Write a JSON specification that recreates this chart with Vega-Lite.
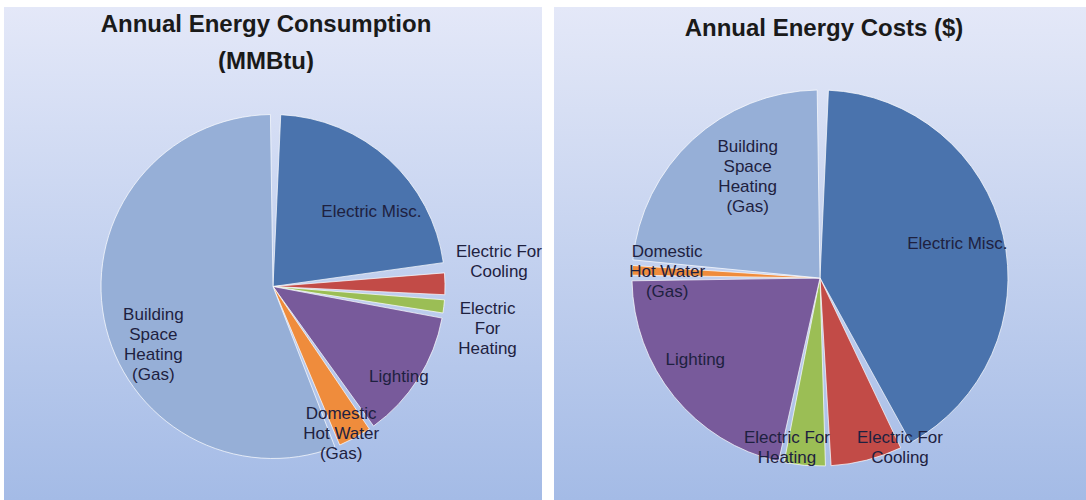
{
  "$schema": "https://vega.github.io/schema/vega-lite/v6.json",
  "background": "white",
  "padding": {"left": 4, "top": 7, "right": 0, "bottom": 0},
  "spacing": 12,
  "config": {"view": {"stroke": null}, "font": "Liberation Sans"},
  "hconcat": [
    {
      "spacing": 0,
      "bounds": "flush",
      "vconcat": [
        {
          "width": 538,
          "height": 66,
          "view": {"stroke": null, "fill": {"gradient": "linear", "x1": 0, "y1": 0, "x2": 0, "y2": 1, "stops": [{"offset": 0, "color": "#e4e8f8"}, {"offset": 1, "color": "#dbe2f6"}]}},
          "data": {"values": [{"title": "Annual Energy Consumption\n(MMBtu)"}]},
          "mark": {"type": "text", "font": "Liberation Sans", "fontSize": 24, "fontWeight": "bold", "fill": "#1a1a1a", "lineBreak": "\n", "lineHeight": 37, "align": "center", "baseline": "middle", "dx": -7, "dy": -15},
          "encoding": {"text": {"field": "title", "type": "nominal"}}
        },
        {
          "width": 538,
          "height": 427,
          "view": {"stroke": null, "fill": {"gradient": "linear", "x1": 0, "y1": 0, "x2": 0, "y2": 1, "stops": [{"offset": 0, "color": "#dbe2f6"}, {"offset": 1, "color": "#a4bbe6"}]}},
          "data": {"values": [
            {"rank": 1, "category": "Electric Misc.", "label": "Electric Misc.", "value": 23.5},
            {"rank": 2, "category": "Electric For Cooling", "label": "Electric For\nCooling", "value": 2.5},
            {"rank": 3, "category": "Electric For Heating", "label": "Electric\nFor\nHeating", "value": 1.7},
            {"rank": 4, "category": "Lighting", "label": "Lighting", "value": 12.6},
            {"rank": 5, "category": "Domestic Hot Water (Gas)", "label": "Domestic\nHot Water\n(Gas)", "value": 3.6},
            {"rank": 6, "category": "Building Space Heating (Gas)", "label": "Building\nSpace\nHeating\n(Gas)", "value": 56.1}
          ]},
          "encoding": {
            "theta": {"field": "value", "type": "quantitative", "stack": true},
            "order": {"field": "rank", "type": "quantitative", "sort": "ascending"},
            "detail": {"field": "category", "type": "nominal"}
          },
          "layer": [
            {
              "mark": {"type": "arc", "radius": 172, "padAngle": {"expr": "datum.rank === 1 ? 0.09 : 0.03"}, "stroke": "#ffffff", "strokeWidth": 1, "strokeOpacity": 0.7},
              "encoding": {
                "color": {"field": "category", "type": "nominal", "legend": null,
                  "scale": {"domain": ["Electric Misc.", "Electric For Cooling", "Electric For Heating", "Lighting", "Domestic Hot Water (Gas)", "Building Space Heating (Gas)"],
                            "range": ["#4a73ad", "#c24b47", "#9bbe55", "#785a9b", "#ef8c3c", "#96afd7"]}}
              }
            },
            {
              "mark": {"type": "text", "font": "Liberation Sans", "fontSize": 17, "fill": "#1e2140", "lineBreak": "\n", "lineHeight": 20, "align": "center", "baseline": "middle",
                "radius": {"expr": "[121, 226, 218, 155, 162, 129][datum.rank - 1]"},
                "dx": {"expr": "[17, 0, -2, -5, -9, 7][datum.rank - 1]"},
                "dy": {"expr": "[15, -31, -3, 7, -15, 4][datum.rank - 1]"}},
              "encoding": {"text": {"field": "label", "type": "nominal"}}
            }
          ]
        }
      ]
    },
    {
      "spacing": 0,
      "bounds": "flush",
      "vconcat": [
        {
          "width": 532,
          "height": 49,
          "view": {"stroke": null, "fill": {"gradient": "linear", "x1": 0, "y1": 0, "x2": 0, "y2": 1, "stops": [{"offset": 0, "color": "#e4e8f8"}, {"offset": 1, "color": "#dee4f6"}]}},
          "data": {"values": [{"title": "Annual Energy Costs ($)"}]},
          "mark": {"type": "text", "font": "Liberation Sans", "fontSize": 24, "fontWeight": "bold", "fill": "#1a1a1a", "align": "center", "baseline": "middle", "dx": 4, "dy": -3},
          "encoding": {"text": {"field": "title", "type": "nominal"}}
        },
        {
          "width": 532,
          "height": 444,
          "view": {"stroke": null, "fill": {"gradient": "linear", "x1": 0, "y1": 0, "x2": 0, "y2": 1, "stops": [{"offset": 0, "color": "#dee4f6"}, {"offset": 1, "color": "#a4bbe6"}]}},
          "data": {"values": [
            {"rank": 1, "category": "Electric Misc.", "label": "Electric Misc.", "value": 42.7},
            {"rank": 2, "category": "Electric For Cooling", "label": "Electric For\nCooling", "value": 6.6},
            {"rank": 3, "category": "Electric For Heating", "label": "Electric For\nHeating", "value": 4.0},
            {"rank": 4, "category": "Lighting", "label": "Lighting", "value": 21.7},
            {"rank": 5, "category": "Domestic Hot Water (Gas)", "label": "Domestic\nHot Water\n(Gas)", "value": 1.3},
            {"rank": 6, "category": "Building Space Heating (Gas)", "label": "Building\nSpace\nHeating\n(Gas)", "value": 23.7}
          ]},
          "encoding": {
            "theta": {"field": "value", "type": "quantitative", "stack": true},
            "order": {"field": "rank", "type": "quantitative", "sort": "ascending"},
            "detail": {"field": "category", "type": "nominal"}
          },
          "layer": [
            {
              "mark": {"type": "arc", "radius": 188, "padAngle": {"expr": "datum.rank === 1 ? 0.09 : 0.03"}, "stroke": "#ffffff", "strokeWidth": 1, "strokeOpacity": 0.7},
              "encoding": {
                "color": {"field": "category", "type": "nominal", "legend": null,
                  "scale": {"domain": ["Electric Misc.", "Electric For Cooling", "Electric For Heating", "Lighting", "Domestic Hot Water (Gas)", "Building Space Heating (Gas)"],
                            "range": ["#4a73ad", "#c24b47", "#9bbe55", "#785a9b", "#ef8c3c", "#96afd7"]}}
              }
            },
            {
              "mark": {"type": "text", "font": "Liberation Sans", "fontSize": 17, "fill": "#1e2140", "lineBreak": "\n", "lineHeight": 20, "align": "center", "baseline": "middle",
                "radius": {"expr": "[141, 185, 172, 149, 153, 123][datum.rank - 1]"},
                "dx": {"expr": "[0, 34, -19, -9, 0, 11][datum.rank - 1]"},
                "dy": {"expr": "[-2, -19, -11, -12, -20, -41][datum.rank - 1]"}},
              "encoding": {"text": {"field": "label", "type": "nominal"}}
            }
          ]
        }
      ]
    }
  ]
}
